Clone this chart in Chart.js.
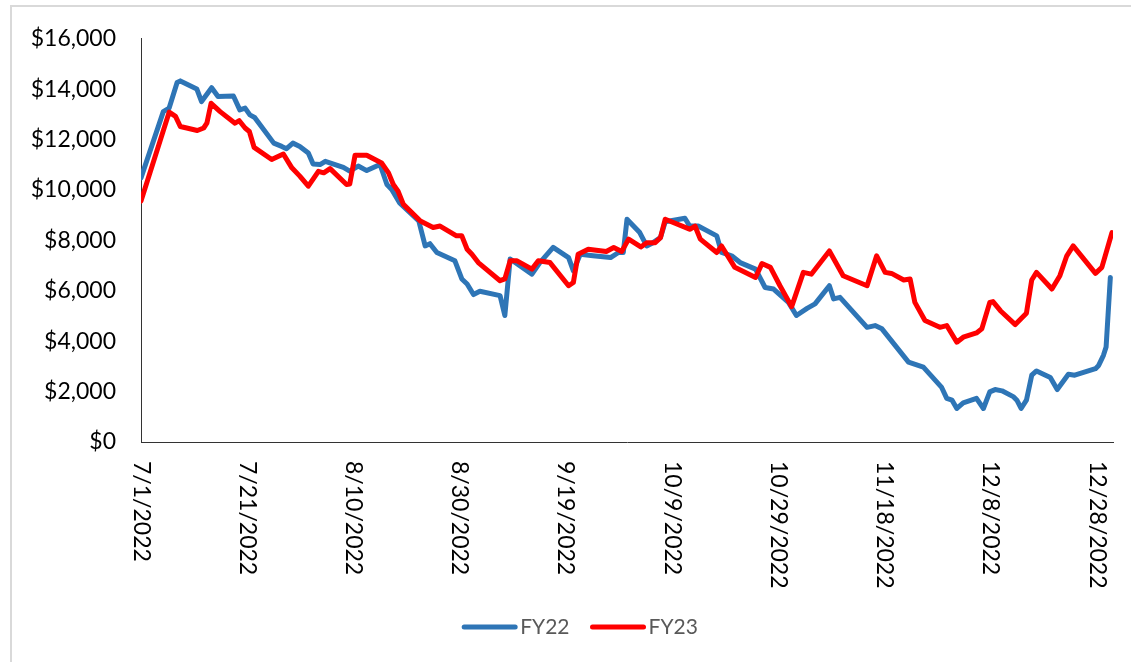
<!DOCTYPE html>
<html><head><meta charset="utf-8">
<script src="https://cdn.jsdelivr.net/npm/chart.js@4.4.0/dist/chart.umd.min.js"></script>
<style>
html,body{margin:0;padding:0;background:#fff;overflow:hidden}
#wrap{position:relative;width:1131px;height:662px}
#frame{position:absolute;left:10px;top:5px;width:1140px;height:680px;border:2px solid #d9d9d9;box-sizing:border-box}
canvas{position:absolute;left:0;top:0}
</style></head><body>
<div id="wrap"><div id="frame"></div><canvas id="c" width="1131" height="662"></canvas></div>
<script>
// Day offsets from 7/1/2022 and values
const fy22Days = [0,4.2,5.3,6.8,7.4,10.5,11.4,13.3,14.5,17.4,18.6,19.6,20.5,21.4,25.0,26.5,27.4,28.6,29.9,31.5,32.4,33.7,34.7,38.1,39.3,40.9,42.5,45.0,46.3,47.2,48.7,52.3,53.5,54.4,55.7,59.1,60.4,61.4,62.6,63.8,67.6,68.5,69.5,73.6,75.1,77.6,80.5,81.4,82.7,85.1,88.4,89.9,90.8,91.5,93.9,95.2,96.4,97.8,98.7,102.4,103.3,104.9,108.4,109.3,111.2,112.8,115.7,117.5,119.1,121.9,123.4,125.4,126.9,129.6,130.4,131.6,136.7,138.2,139.5,144.5,147.3,150.7,151.7,152.7,153.6,154.8,157.3,158.6,159.8,160.8,162.1,164.3,164.9,165.7,166.7,167.7,168.6,171.2,172.5,174.6,175.8,179.7,180.3,181.2,181.7,182.5];
const fy22Values = [10480,13110,13250,14270,14330,14010,13510,14060,13710,13730,13180,13250,12980,12880,11860,11730,11640,11860,11730,11470,11030,11010,11140,10900,10750,10950,10770,11010,10220,10020,9490,8770,7780,7870,7520,7190,6470,6270,5850,5980,5810,5020,7260,6660,7120,7720,7320,6790,7450,7390,7320,7520,7520,8840,8310,7780,7910,8110,8740,8880,8570,8570,8180,7520,7390,7120,6860,6130,6070,5540,5020,5300,5480,6200,5680,5740,4550,4620,4490,3170,2970,2180,1730,1660,1330,1550,1730,1330,1990,2080,2030,1790,1660,1330,1660,2650,2820,2560,2080,2690,2650,2910,3040,3440,3770,6530];
const fy23Days = [0,5.3,6.5,7.4,10.6,11.8,12.4,13.2,14.9,17.7,18.5,19.6,20.4,21.3,24.6,26.8,28.4,29.9,31.5,33.4,34.4,35.6,38.7,39.3,40.3,42.5,45.3,46.6,47.5,48.4,49.4,52.6,55.0,56.3,59.4,60.4,61.4,62.3,63.5,67.6,68.5,69.5,70.8,73.6,74.8,77.0,80.5,81.4,82.3,84.2,87.6,89.0,90.5,91.8,94.1,95.2,96.8,97.8,98.7,103.4,104.3,105.3,108.4,109.3,111.8,115.7,116.9,118.5,120.3,122.5,124.7,126.2,129.6,132.2,136.7,138.5,140.1,141.3,143.6,144.8,145.7,147.6,150.4,151.7,153.6,154.8,157.3,158.3,159.8,160.4,161.8,164.6,166.7,167.7,168.6,171.5,173.0,174.3,175.5,179.7,180.9,182.8];
const fy23Values = [9560,13090,12920,12520,12360,12460,12650,13440,13110,12650,12750,12460,12320,11690,11210,11430,10880,10550,10150,10740,10680,10850,10220,10240,11380,11380,11070,10680,10220,9950,9430,8770,8510,8570,8180,8180,7650,7450,7120,6400,6470,7190,7190,6860,7190,7120,6200,6330,7450,7650,7560,7720,7560,8050,7740,7910,7910,8110,8840,8440,8570,8050,7520,7780,6930,6530,7080,6930,6200,5370,6730,6660,7580,6600,6200,7390,6730,6690,6430,6470,5540,4820,4550,4620,3960,4160,4330,4490,5540,5570,5210,4660,5110,6430,6730,6070,6600,7390,7780,6690,6930,8310];
const xTickDays = [0,20,40,60,80,100,120,140,160,180];
const xTickLabels = ['7/1/2022','7/21/2022','8/10/2022','8/30/2022','9/19/2022','10/9/2022','10/29/2022','11/18/2022','12/8/2022','12/28/2022'];
const seriesNames = ['FY22','FY23'];
const seriesColors = ['#2E75B6','#FF0000'];

const FONT = 'Lato, "Open Sans", sans-serif';

const customDraw = {
  id: 'customDraw',
  afterDraw(chart) {
    const ctx = chart.ctx;
    const xs = chart.scales.x;
    ctx.save();
    ctx.font = '23px ' + FONT;
    ctx.fillStyle = '#000';
    ctx.textAlign = 'left';
    ctx.textBaseline = 'middle';
    xs.ticks.forEach((t, i) => {
      const px = xs.getPixelForValue(t.value);
      ctx.save();
      ctx.translate(px, chart.chartArea.bottom + 19);
      ctx.rotate(Math.PI / 2);
      ctx.fillText(xTickLabels[i], 0, 0);
      ctx.restore();
    });
    // legend
    ctx.font = '21px ' + FONT;
    const lineW = 55, gap = 3, itemGap = 21, cy = 627, cx = 580;
    const ds = chart.data.datasets;
    const widths = ds.map(d => ctx.measureText(d.label).width);
    let total = 0;
    ds.forEach((d, i) => { total += lineW + gap + widths[i] + (i < ds.length - 1 ? itemGap : 0); });
    let x = cx - total / 2;
    ds.forEach((d, i) => {
      ctx.beginPath();
      ctx.strokeStyle = d.borderColor;
      ctx.lineWidth = 5;
      ctx.lineCap = 'round';
      ctx.moveTo(x + 2, cy);
      ctx.lineTo(x + lineW - 2, cy);
      ctx.stroke();
      ctx.fillStyle = '#595959';
      ctx.fillText(d.label, x + lineW + gap, cy);
      x += lineW + gap + widths[i] + itemGap;
    });
    ctx.restore();
  }
};

const mk = (days, vals) => days.map((d, i) => ({x: d, y: vals[i]}));

new Chart(document.getElementById('c'), {
  type: 'line',
  data: {
    datasets: [
      {label: seriesNames[0], data: mk(fy22Days, fy22Values), borderColor: seriesColors[0], backgroundColor: seriesColors[0], borderWidth: 5, pointRadius: 0, tension: 0, borderJoinStyle: 'round', borderCapStyle: 'round', order: 1},
      {label: seriesNames[1], data: mk(fy23Days, fy23Values), borderColor: seriesColors[1], backgroundColor: seriesColors[1], borderWidth: 5, pointRadius: 0, tension: 0, borderJoinStyle: 'round', borderCapStyle: 'round', order: 0}
    ]
  },
  options: {
    responsive: false,
    animation: false,
    devicePixelRatio: 1,
    layout: {padding: {top: 36, right: 18, left: 0, bottom: 0}},
    plugins: {legend: {display: false}, tooltip: {enabled: false}},
    scales: {
      x: {
        type: 'linear', min: 0, max: 183,
        grid: {display: false, drawTicks: false},
        border: {display: true, color: '#333', width: 1},
        ticks: {display: false},
        afterBuildTicks: s => { s.ticks = xTickDays.map(v => ({value: v})); },
        afterFit: s => { s.height = 220; }
      },
      y: {
        min: 0, max: 16000,
        grid: {display: false, drawTicks: false},
        border: {display: true, color: '#333', width: 1},
        ticks: {stepSize: 2000, padding: 25, color: '#000', font: {family: FONT, size: 23},
          callback: v => '$' + Number(v).toLocaleString('en-US')},
        afterFit: s => { s.width = 141; }
      }
    }
  },
  plugins: [customDraw]
});
</script>
</body></html>
